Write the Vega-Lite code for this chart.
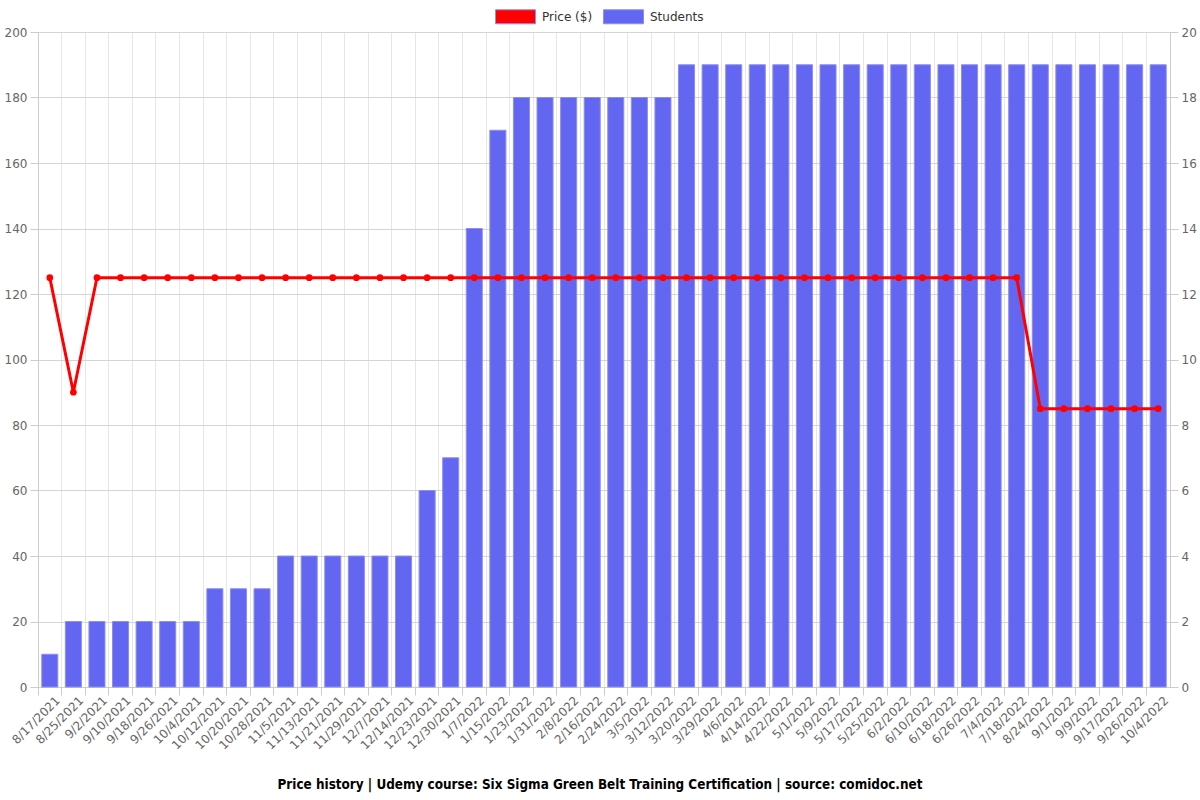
{
  "$schema": "https://vega.github.io/schema/vega-lite/v6.json",
  "width": 1132,
  "height": 655,
  "autosize": {"type": "none"},
  "padding": {"left": 38, "top": 32, "right": 30, "bottom": 113},
  "background": "white",
  "config": {
    "font": "DejaVu Sans",
    "view": {"stroke": null},
    "axis": {"labelColor": "#666", "labelFontSize": 12, "labelFont": "DejaVu Sans", "tickColor": "#ccc", "domainColor": "#ccc", "tickSize": 8, "labelPadding": 3}
  },
  "title": {
    "text": "Price history | Udemy course: Six Sigma Green Belt Training Certification | source: comidoc.net",
    "orient": "bottom",
    "anchor": "middle",
    "font": "DejaVu Sans Condensed",
    "fontSize": 13.4,
    "fontWeight": "bold",
    "color": "#000",
    "offset": 27,
    "dx": -4
  },
  "data": {
    "values": [
      {"date": "8/17/2021", "price": 125, "students": 1},
      {"date": "8/25/2021", "price": 90, "students": 2},
      {"date": "9/2/2021", "price": 125, "students": 2},
      {"date": "9/10/2021", "price": 125, "students": 2},
      {"date": "9/18/2021", "price": 125, "students": 2},
      {"date": "9/26/2021", "price": 125, "students": 2},
      {"date": "10/4/2021", "price": 125, "students": 2},
      {"date": "10/12/2021", "price": 125, "students": 3},
      {"date": "10/20/2021", "price": 125, "students": 3},
      {"date": "10/28/2021", "price": 125, "students": 3},
      {"date": "11/5/2021", "price": 125, "students": 4},
      {"date": "11/13/2021", "price": 125, "students": 4},
      {"date": "11/21/2021", "price": 125, "students": 4},
      {"date": "11/29/2021", "price": 125, "students": 4},
      {"date": "12/7/2021", "price": 125, "students": 4},
      {"date": "12/14/2021", "price": 125, "students": 4},
      {"date": "12/23/2021", "price": 125, "students": 6},
      {"date": "12/30/2021", "price": 125, "students": 7},
      {"date": "1/7/2022", "price": 125, "students": 14},
      {"date": "1/15/2022", "price": 125, "students": 17},
      {"date": "1/23/2022", "price": 125, "students": 18},
      {"date": "1/31/2022", "price": 125, "students": 18},
      {"date": "2/8/2022", "price": 125, "students": 18},
      {"date": "2/16/2022", "price": 125, "students": 18},
      {"date": "2/24/2022", "price": 125, "students": 18},
      {"date": "3/5/2022", "price": 125, "students": 18},
      {"date": "3/12/2022", "price": 125, "students": 18},
      {"date": "3/20/2022", "price": 125, "students": 19},
      {"date": "3/29/2022", "price": 125, "students": 19},
      {"date": "4/6/2022", "price": 125, "students": 19},
      {"date": "4/14/2022", "price": 125, "students": 19},
      {"date": "4/22/2022", "price": 125, "students": 19},
      {"date": "5/1/2022", "price": 125, "students": 19},
      {"date": "5/9/2022", "price": 125, "students": 19},
      {"date": "5/17/2022", "price": 125, "students": 19},
      {"date": "5/25/2022", "price": 125, "students": 19},
      {"date": "6/2/2022", "price": 125, "students": 19},
      {"date": "6/10/2022", "price": 125, "students": 19},
      {"date": "6/18/2022", "price": 125, "students": 19},
      {"date": "6/26/2022", "price": 125, "students": 19},
      {"date": "7/4/2022", "price": 125, "students": 19},
      {"date": "7/18/2022", "price": 125, "students": 19},
      {"date": "8/24/2022", "price": 85, "students": 19},
      {"date": "9/1/2022", "price": 85, "students": 19},
      {"date": "9/9/2022", "price": 85, "students": 19},
      {"date": "9/17/2022", "price": 85, "students": 19},
      {"date": "9/26/2022", "price": 85, "students": 19},
      {"date": "10/4/2022", "price": 85, "students": 19}
    ]
  },
  "encoding": {
    "x": {
      "field": "date",
      "type": "ordinal",
      "sort": null,
      "scale": {"paddingInner": 0, "paddingOuter": 0},
      "axis": {"title": null, "labelAngle": -45, "labelAlign": "right", "labelBaseline": "middle", "bandPosition": 0, "labelOffset": 8, "grid": true, "gridColor": "#e6e6e6", "domainColor": "#ccc"}
    }
  },
  "layer": [
    {
      "mark": {"type": "bar", "width": {"band": 0.68}, "stroke": "#8c8ef4", "strokeWidth": 1},
      "encoding": {
        "y": {
          "field": "students",
          "type": "quantitative",
          "scale": {"domain": [0, 20], "nice": false},
          "axis": {"orient": "right", "title": null, "values": [0, 2, 4, 6, 8, 10, 12, 14, 16, 18, 20], "grid": false}
        },
        "color": {
          "datum": "Students",
          "type": "nominal",
          "scale": {"domain": ["Price ($)", "Students"], "range": ["#ff0000", "#6366f1"]},
          "legend": {
            "title": null,
            "orient": "none",
            "legendX": 457,
            "legendY": -36,
            "direction": "horizontal",
            "symbolType": "M-1,-0.35H1V0.35H-1Z",
            "symbolSize": 1600,
            "symbolStrokeWidth": 1,
            "labelFontSize": 12,
            "labelColor": "#333",
            "labelFont": "DejaVu Sans",
            "columnPadding": 8,
            "labelOffset": 6
          }
        }
      }
    },
    {
      "encoding": {
        "y": {
          "field": "price",
          "type": "quantitative",
          "scale": {"domain": [0, 200], "nice": false},
          "axis": {"orient": "left", "title": null, "values": [0, 20, 40, 60, 80, 100, 120, 140, 160, 180, 200], "grid": true, "gridColor": "#d4d4d4"}
        }
      },
      "layer": [
        {"mark": {"type": "line", "color": "#ff0000", "strokeWidth": 3}},
        {
          "mark": {"type": "point", "filled": true, "size": 45, "opacity": 1},
          "encoding": {"color": {"datum": "Price ($)", "type": "nominal"}}
        }
      ]
    }
  ],
  "resolve": {"scale": {"y": "independent"}}
}
